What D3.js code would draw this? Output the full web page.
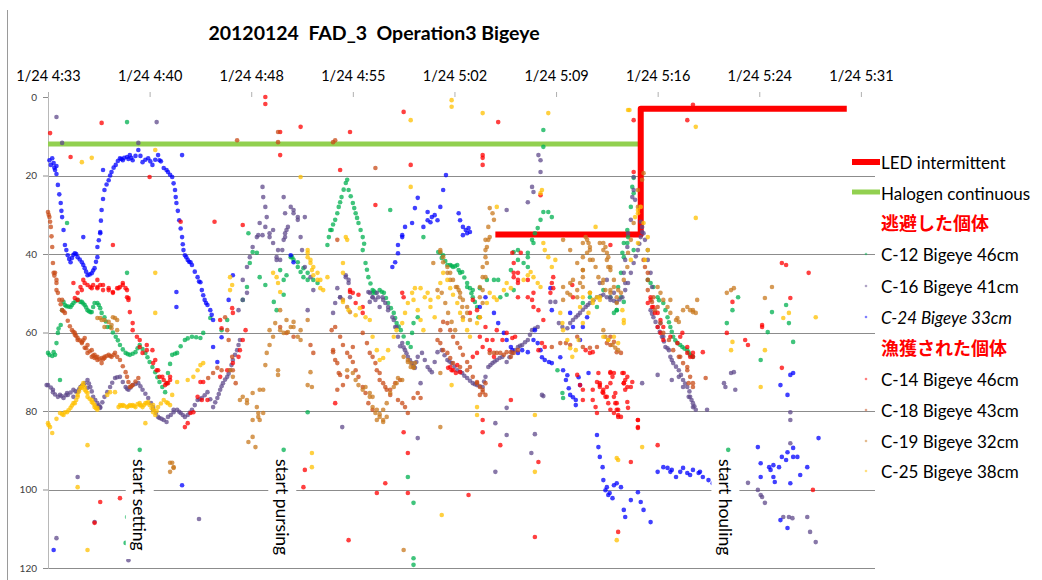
<!DOCTYPE html>
<html><head><meta charset="utf-8">
<script src="https://cdn.jsdelivr.net/npm/d3@7"></script>
<style>
body{margin:0;background:#fff;}
svg{display:block;}
</style></head><body>
<svg id="chart" width="1042" height="580"></svg>
<script>
// ---------- DATA (time = minutes after 04:00 on 1/24, depth in m) ----------
const title = "20120124  FAD_3  Operation3 Bigeye";
const xTickValues = [33.6, 40.8, 48.0, 55.2, 62.4, 69.6, 76.8, 84.0, 91.2];
const xTickLabels = ["1/24 4:33","1/24 4:40","1/24 4:48","1/24 4:55","1/24 5:02","1/24 5:09","1/24 5:16","1/24 5:24","1/24 5:31"];
const yTickValues = [0, 20, 40, 60, 80, 100, 120];

const ledLine = [[65.3,35],[75.6,35],[75.6,3],[90.2,3]];
const halogenLine = [[33.6,12],[75.6,12]];

const annotations = [
  {t:40.1, label:"start setting"},
  {t:50.2, label:"start pursing"},
  {t:81.6, label:"start houling"}
];

const C12 = [[33.6,65.2],[33.7,65.7],[33.9,66.0],[34.1,65.7],[34.2,62.7],[34.3,60.1],[34.5,58.1],[34.6,54.3],[34.7,52.2],[34.9,53.3],[35.2,53.5],[35.4,52.5],[35.7,51.7],[35.9,52.2],[36.0,52.2],[36.2,53.0],[36.4,54.3],[36.6,54.8],[36.7,54.8],[36.9,52.5],[37.1,52.5],[37.3,53.8],[37.4,55.0],[37.6,56.1],[37.8,58.6],[38.0,58.6],[38.4,61.1],[38.7,63.2],[39.1,65.2],[39.4,65.7],[39.8,65.0],[40.1,63.2],[40.5,65.2],[40.8,67.5],[41.2,70.1],[41.5,72.6],[41.9,75.2],[42.1,70.3],[42.4,65.7],[42.75,65.2],[43.3,61.9],[43.8,61.1],[44.4,61.4],[44.6,60.1],[45.9,59.4],[46.3,56.8],[47.4,51.7],[47.7,48.4],[47.9,42.3],[48.1,39.5],[47.8,34.7],[48.4,39.7],[48.6,45.9],[49.0,47.9],[49.6,52.2],[49.8,54.3],[50.3,50.4],[50.5,45.4],[50.8,40.8],[50.9,40.8],[51.0,41.5],[51.3,42.1],[51.3,43.3],[51.5,44.6],[51.7,43.6],[51.7,45.9],[52.0,46.6],[52.0,44.8],[52.4,46.6],[52.7,47.4],[50.05,44.1],[50.3,46.6],
[34.0,65.0],[34.35,59.0],[34.8,53.0],[35.05,53.4],[35.3,53.0],[35.55,52.0],[36.1,52.6],[36.3,53.6],[36.5,54.6],[36.8,53.5],[37.2,53.0],[37.7,57.2],[38.2,60.0],[38.55,62.0],[38.9,64.3],[39.25,65.5],[39.6,65.4],[39.95,64.0],[40.3,64.2],[40.65,66.3],[41.0,68.8],[41.35,71.4],[41.7,73.9],[42.0,73.0],[42.25,68.0],[42.6,65.4],[43.0,63.5],[43.5,61.5],[44.1,61.2],
[53.4,37.7],[53.6,33.9],[53.7,33.9],[53.95,31.3],[54.2,28.0],[54.4,25.5],[54.7,21.9],[54.8,21.1],[54.9,23.7],[55.2,27.0],[55.4,29.6],[55.6,32.1],[55.9,35.7],[55.9,39.0],[56.1,42.3],[56.3,45.9],[56.6,49.2],[56.8,49.9],[57.1,49.2],[57.4,49.9],[57.7,52.5],[58.1,55.0],[58.3,57.6],[58.6,59.4],[59.1,62.7],[59.3,63.7],[59.4,60.1],[59.5,57.6],[59.8,56.1],[56.6,49.9],
[53.5,35.7],[53.8,32.5],[54.1,29.6],[54.3,26.8],[54.55,23.6],[55.05,25.3],[55.3,28.3],[55.5,30.8],[55.75,33.9],[56.0,37.4],[56.2,44.0],[56.45,47.5],[56.7,49.5],[57.25,49.6],[57.55,51.2],[57.9,53.8],[58.2,56.3],[58.45,58.5],[58.8,61.0],
[61.25,39.5],[61.4,39.7],[61.5,41.0],[61.6,40.3],[61.9,42.8],[62.1,42.8],[62.3,43.3],[62.6,42.8],[62.7,44.1],[62.8,44.8],[62.95,44.6],[63.3,47.4],[63.3,48.4],[63.5,48.7],[63.7,51.0],[63.7,49.2],[64.0,53.5],[64.1,56.1],[64.2,48.7],[64.7,46.6],[65.2,46.6],[65.5,46.6],[65.65,51.0],[66.1,50.4],[66.6,49.2],[66.4,44.1],[66.6,39.5],[66.9,39.0],[66.9,41.5],[67.3,42.3],[67.6,40.8],[67.6,43.3],[67.6,39.7],[67.9,36.4],[68.0,37.2],[68.1,34.7],[68.3,33.4],[68.5,31.3],[68.7,29.3],[69.05,29.3],[69.3,30.6],[68.7,8.4],[68.7,12.7],
[61.75,41.8],[62.2,43.0],[62.45,43.1],[63.1,46.0],[63.6,50.0],[63.85,52.2],
[69.7,69.6],[70.05,75.4],[70.1,76.7],[71.5,52.5],[72.0,51.0],[72.5,53.5],[72.95,49.2],[73.45,51.0],[73.9,54.3],[74.4,52.2],[74.65,37.2],[74.7,35.7],[74.4,40.8],[75.1,39.0],
[75.1,20.6],[75.0,22.9],[75.1,24.5],[74.9,28.0],[74.65,33.9],[74.4,37.2],[74.3,39.7],[74.2,44.8],[74.0,48.4],[74.2,51.0],[73.7,55.0],[73.9,54.3],[76.1,46.6],[76.3,47.4],[76.5,48.4],[76.8,51.0],
[77.2,52.5],[77.5,56.1],[77.7,58.6],[77.9,61.1],[78.2,62.7],[78.55,63.7],[78.9,64.5],[79.1,65.7],[79.3,66.2],
[76.9,51.8],[77.35,54.3],[77.6,57.4],[77.8,59.8],[78.05,62.0],[78.4,63.2],[78.7,64.1],[79.0,65.1],[79.2,66.0],
[82.1,54.3],[82.5,51.0],[84.9,54.8],[85.9,53.0],[81.7,57.6],[84.6,59.9],[86.4,62.4],[84.1,67.0],[86.1,57.6],
[39.2,6.4],[34.95,32.1],[39.2,44.8],[45.1,56.3],[34.45,72.1],[40.1,89.9],[39.1,113.6],[39.2,107.0],[50.3,89.9],[52.0,80.3],[59.1,96.8],[59.5,103.4],[59.5,117.5],[59.5,119.2],[60.2,35.7],[57.85,28.8],[81.8,89.9]];

const C16 = [[33.5,73.4],[33.6,73.4],[33.95,74.6],[33.95,75.2],[34.3,76.4],[34.45,75.9],[34.7,76.7],[34.95,75.4],[35.0,75.9],[35.4,74.6],[35.4,76.4],[35.7,75.2],[35.9,73.9],[36.1,73.4],[36.2,72.9],[36.4,72.1],[36.4,74.1],[36.6,73.9],[36.8,76.4],[37.1,78.0],[37.1,79.0],[37.3,79.0],[37.3,79.2],[37.6,76.4],[38.0,73.9],[38.35,71.6],[38.7,71.3],[39.1,73.9],[39.3,74.6],[39.6,73.4],[40.0,72.9],[40.3,74.6],[40.7,76.7],[41.05,79.0],[41.05,79.7],[41.4,81.5],[41.5,81.8],[41.8,82.3],[42.0,82.8],[42.1,81.5],[42.5,80.3],[42.5,79.7],[42.75,79.7],[43.0,80.5],[43.3,81.5],[43.5,81.0],[43.8,79.7],[44.2,77.2],[44.5,76.7],[44.9,75.2],[45.3,79.0],[45.6,76.7],[45.8,74.6],[46.0,72.9],[46.3,71.3],[46.5,69.6],[46.7,67.0],[47.0,64.5],[47.2,61.9],[47.1,54.3],[47.4,51.7],[47.7,49.9],[47.4,46.6],[47.7,43.3],[47.9,40.8],[48.1,38.2],[48.4,35.7],[48.5,35.2],[48.6,32.1],[48.8,35.2],[49.0,33.1],[49.1,30.6],[49.0,28.0],[48.85,25.5],[48.8,22.9],[49.3,34.7],[49.3,35.7],[49.55,37.2],[49.55,33.9],[49.8,40.8],[49.8,41.5],[49.9,39.0],[50.05,41.5],[50.2,39.0],[50.3,36.4],[50.4,35.7],[50.4,34.7],[50.6,33.1],[50.5,33.9],[50.3,25.5],[50.4,29.6],[50.8,28.0],[51.0,28.8],[51.0,29.6],[51.3,30.6],[51.3,31.3],[51.5,35.7],[51.6,39.0],[51.8,30.6],[51.8,43.3],[52.2,45.9],[52.4,49.2],[52.0,54.3],
[33.8,74.0],[34.1,75.8],[34.55,76.2],[34.85,76.0],[35.2,75.3],[35.55,75.0],[35.8,74.5],[36.0,73.6],[36.5,73.0],[36.7,75.0],[36.95,77.2],[37.2,78.6],[37.45,77.8],[37.8,75.2],[38.15,72.8],[38.5,71.4],[38.9,72.6],[39.2,74.3],[39.45,74.0],[39.8,73.1],[40.15,73.7],[40.5,75.6],[40.9,78.0],[41.25,80.5],[41.65,82.0],[42.3,81.0],[42.9,80.2],[43.15,81.0],[43.65,80.4],[44.0,78.5],[44.35,77.0],[44.7,76.0],[45.1,77.0],[45.45,77.8],[45.7,75.7],[45.9,73.7],[46.15,72.0],[46.4,70.5],[46.6,68.3],[46.85,65.7],[47.1,63.2],
[54.1,48.7],[54.3,51.0],[54.7,45.4],[54.9,46.6],[56.3,49.7],[56.6,51.0],
[53.8,55.0],[53.95,52.5],[54.3,51.0],[54.7,45.9],[54.9,47.4],[55.0,51.0],[56.4,49.9],[56.4,52.2],[56.6,51.0],[56.8,51.7],[56.9,49.9],[57.0,51.0],[57.1,53.5],[57.3,51.0],[57.35,51.7],[57.5,52.5],[57.7,53.5],[57.7,54.3],[58.0,56.1],[58.1,56.8],[58.2,58.6],[58.3,58.6],[58.4,61.1],[58.7,62.7],[58.9,64.5],[59.1,66.2],[59.4,67.8],[59.6,69.0],[59.8,66.2],[60.1,65.2],[60.5,68.8],[60.8,70.1],[61.2,65.0],[61.5,64.5],[61.9,67.0],[62.2,67.8],[62.6,69.6],[62.95,70.3],[63.3,71.6],[63.7,72.9],[64.0,73.4],[64.4,73.9],[64.6,71.3],[64.8,68.8],[65.1,67.8],[65.4,67.0],[65.8,66.2],[66.1,67.5],[66.5,65.2],[66.9,63.7],[67.2,63.2],[67.6,61.9],[67.9,59.4],[68.3,58.6],[69.2,52.2],[69.55,52.2],[69.8,57.6],[70.05,58.6],[70.4,58.9],[70.6,57.6],[71.0,56.1],[71.3,55.0],[71.7,53.5],[72.0,52.5],[72.5,51.0],[72.95,50.4],[73.45,51.7],[73.9,52.2],[74.3,51.0],[74.7,47.4],[75.1,42.3],[75.4,39.0],[75.6,35.7],[75.7,34.4],[72.7,47.4],[73.2,46.6],[73.45,51.0],[73.7,49.9],
[58.55,63.5],[58.8,63.8],[59.0,65.3],[59.25,67.0],[59.5,68.5],[59.7,67.5],[60.3,67.0],[60.65,69.5],[61.0,67.5],[61.7,65.8],[62.05,67.4],[62.4,68.7],[62.8,70.0],[63.1,71.0],[63.5,72.3],[63.85,73.2],[64.2,73.7],[64.5,72.5],[64.95,68.3],[65.25,67.4],[65.6,66.5],[66.3,66.3],[66.7,64.5],[67.05,63.4],[67.4,62.5],[67.75,60.6],[68.1,59.0],
[70.8,56.8],[71.15,55.6],[71.5,54.2],[71.85,53.0],[72.25,51.8],[72.75,50.7],[73.2,51.0],[73.7,51.9],[74.1,51.6],[74.5,49.2],[74.9,44.8],[75.25,40.6],[75.5,37.4],
[75.1,23.7],[75.0,25.5],[75.2,26.2],[74.9,31.3],[74.7,34.7],[74.65,38.2],[74.5,41.5],[74.4,44.8],[74.5,47.4],[75.6,31.8],[75.7,33.1],[75.8,34.7],[75.9,36.4],[76.1,39.0],[76.1,41.5],[76.3,44.8],[76.4,48.4],[75.1,20.4],
[76.3,54.3],[76.5,56.1],[76.8,58.6],[77.0,57.6],[77.1,61.1],[77.2,61.1],[77.35,63.7],[77.6,64.5],[77.7,66.2],[77.9,67.8],[78.3,69.6],[78.3,71.3],[78.6,72.1],[78.6,73.9],[78.9,73.9],[79.0,76.4],[79.1,76.4],[79.3,78.0],[79.3,79.0],[79.5,79.7],[76.8,70.8],[77.8,72.1],[80.3,79.7],[75.7,72.9],
[76.4,55.2],[76.65,57.3],[76.95,59.8],[77.25,62.3],[77.5,64.0],[77.8,67.0],[78.1,68.7],[78.45,70.8],[78.75,73.0],[79.05,75.0],[79.2,77.2],[79.4,78.8],
[82.0,70.3],[82.2,70.1],[81.5,72.9],[81.6,73.9],[82.3,74.6],[86.2,80.3],[86.2,82.3],[86.2,88.2],[84.1,101.4],[84.2,101.9],[84.4,103.4],[83.2,98.3],[85.7,107.0],[86.1,107.0],[86.35,107.3],[87.4,107.0],[87.6,110.8],[88.0,113.4],[83.9,100.1],
[34.2,5.1],[34.6,11.7],[41.3,6.4],[40.0,11.7],[35.7,96.8],[36.9,108.3],[34.2,112.4],[39.3,118.0],[44.3,107.5],[54.45,84.1],[59.8,86.9],[65.3,83.1],[66.1,79.2],[65.3,95.5],[66.1,86.1],[67.85,90.7],[68.1,85.9],[68.7,76.2],[60.0,72.9],[68.6,75.9],[68.35,14.8],[68.5,16.1],[68.5,19.1],[67.9,22.9],[68.0,24.2],[67.6,26.8],[66.1,28.8]];

const C24 = [[33.7,16.1],[33.8,17.3],[34.0,16.8],[34.1,18.6],[34.2,19.6],[34.3,22.4],[34.5,27.0],[34.6,30.6],[34.7,33.9],[34.8,37.7],[35.0,40.3],[35.3,41.0],[35.5,39.8],[35.7,40.8],[36.0,42.1],[36.2,43.6],[36.4,45.4],[36.7,44.9],[36.9,43.6],[37.1,40.8],[37.1,38.2],[37.3,34.7],[37.4,28.8],[37.6,23.7],[37.9,21.2],[38.1,19.1],[38.4,17.3],[38.7,15.6],[39.2,15.3],[39.6,16.1],[40.0,13.5],[40.3,16.6],[40.7,15.6],[41.0,17.3],[41.4,14.8],[41.8,18.1],[42.1,19.1],[42.4,20.4],[42.6,23.7],[42.7,27.0],[42.9,31.4],[43.1,35.7],[43.2,39.0],[43.5,41.5],[43.8,42.8],[44.2,45.9],[44.5,49.2],[44.7,51.7],[45.1,54.3],[45.3,56.8],[33.9,15.6],[34.2,17.6],[35.2,42.1],[38.9,16.1],[39.4,14.8],[41.5,16.1],[43.3,40.3],[43.7,42.1],[44.4,47.2],[44.9,53.0],
[34.05,18.0],[34.4,24.8],[34.55,29.0],[34.9,39.0],[35.1,41.3],[35.4,40.2],[35.6,40.0],[35.85,41.4],[36.1,42.8],[36.3,44.5],[36.55,45.2],[36.8,44.2],[37.0,42.0],[37.2,36.5],[37.35,31.5],[37.5,26.0],[37.75,22.3],[38.0,20.0],[38.25,18.0],[38.55,16.3],[38.8,15.8],[39.0,15.5],[39.3,15.8],[39.5,15.5],[39.8,15.0],[40.15,15.0],[40.5,16.0],[40.85,16.4],[41.2,16.0],[41.6,16.4],[42.0,18.6],[42.25,19.8],[42.5,22.0],[42.65,25.5],[42.8,29.0],[43.0,33.5],[43.15,37.5],[43.4,40.8],[43.6,42.0],[44.0,44.5],[44.3,47.0],[44.6,50.5],[44.8,52.5],[45.2,55.5],
[45.9,61.2],[45.3,63.7],[45.6,67.5],[46.4,51.7],[46.7,45.4],[42.7,49.7],[42.7,53.5],[36.1,35.7],[37.3,34.4],[37.5,18.6],[43.1,14.8],
[61.8,19.9],[61.6,23.7],[61.4,28.0],[61.2,31.4],[60.8,30.6],[60.5,29.3],[60.5,31.4],[60.2,33.1],[59.8,25.7],[59.6,28.3],[59.4,32.1],[58.9,33.1],[58.7,35.7],[58.4,39.8],[58.2,42.1],[58.0,43.3],[62.8,31.4],[63.0,33.1],[63.2,33.9],[63.4,33.4],[63.3,34.7],[63.0,35.2],[62.7,29.6],[51.0,42.1],[50.8,40.3],[61.0,30.1],[60.7,31.9],
[58.4,37.7],[58.7,35.2],[63.5,34.4],[64.2,53.5],[64.6,51.0],[65.2,55.0],[65.5,57.6],[65.9,60.1],[66.1,61.9],[66.4,63.7],[66.9,65.2],[67.2,64.5],[68.0,61.9],[68.1,59.4],[68.3,62.7],[68.5,64.5],[68.6,66.3],[68.8,67.0],[69.1,67.5],[69.3,67.8],[69.9,66.3],[70.1,69.6],[70.3,72.1],[70.5,74.2],[70.6,75.9],[70.8,76.5],[69.2,48.7],[69.3,54.3],[70.6,55.0],[70.8,58.6],[71.3,61.9],[71.5,58.6],[71.8,56.1],[71.2,71.4],[71.3,73.4],[71.0,77.2],[71.9,70.3],[70.4,70.9],[71.0,78.5],[66.5,64.5],[67.6,65.0],
[72.5,86.1],[72.6,89.2],[72.7,91.7],[72.9,94.3],[72.95,97.6],[73.2,99.4],[73.4,100.9],[73.7,98.9],[73.9,98.4],[74.2,99.4],[73.3,101.4],[74.4,105.2],[74.5,107.0],[74.9,102.7],[75.4,100.7],[75.6,103.2],[75.8,105.2],[76.3,108.3],[73.1,100.2],[73.6,102.2],
[76.8,95.5],[77.2,94.3],[77.5,94.5],[77.7,95.5],[78.1,96.8],[78.4,95.5],[78.6,94.5],[78.9,95.8],[79.3,95.0],[79.7,95.8],[80.0,96.8],[80.4,97.6],[80.7,98.4],[77.8,95.0],[79.1,96.3],[79.8,95.5],
[84.1,96.8],[84.7,94.3],[85.0,93.8],[85.4,94.3],[85.6,91.7],[86.0,90.5],[86.4,89.4],[86.4,91.7],[86.7,91.7],[85.0,96.8],[85.1,98.1],[84.1,93.3],[83.9,89.2],[86.2,98.4],[87.4,94.3],[88.2,86.9],[85.5,107.8],[86.0,109.8],[86.9,96.3],[85.5,73.4],[86.2,70.8],[86.4,70.3],[86.0,75.9],[84.8,95.0],[85.9,92.5],
[34.0,115.4],[43.1,98.9]];

const C14 = [[35.4,47.4],[35.5,51.2],[35.7,49.9],[35.7,51.7],[35.9,48.4],[36.0,49.2],[36.1,46.6],[36.2,47.4],[36.4,47.9],[36.6,48.4],[36.7,48.7],[36.8,47.9],[37.1,48.4],[37.1,46.6],[37.1,48.7],[37.3,47.9],[37.5,49.2],[37.5,47.9],[37.9,48.7],[37.9,49.2],[38.2,49.9],[38.2,49.7],[38.5,48.7],[38.6,48.7],[38.7,48.4],[38.9,47.4],[38.9,47.9],[39.1,48.7],[39.2,49.2],[39.2,51.0],[39.3,51.7],[39.3,51.2],[39.4,54.8],[39.6,57.6],[39.6,59.4],[39.9,61.1],[40.1,61.9],[40.1,63.7],[40.3,65.2],[40.6,63.2],[40.6,64.5],[41.0,64.5],[41.05,67.8],[41.2,67.0],[41.3,69.6],[41.4,69.6],[41.5,71.3],[41.7,71.3],[41.8,72.1],[41.9,73.4],[42.0,72.9],[42.1,72.9],[42.25,72.1],[42.25,71.3],[43.3,84.1],[43.5,83.1],[43.7,80.5],[43.9,80.3],[44.2,76.4],[44.4,72.6],[44.5,77.2],[44.6,72.6],[44.9,77.2],[45.8,71.3],[45.8,56.8],[45.9,58.9],[46.3,69.6],[46.65,53.8],[46.7,55.0],[46.7,67.8],[47.1,66.2],[47.2,64.5],[47.4,61.9],[47.6,59.4],
[55.0,49.2],[55.2,49.9],[55.6,50.4],[55.9,53.5],[55.9,55.0],[58.7,49.9],[58.8,51.0],[53.95,78.0],[55.0,49.7],[55.4,52.5],[61.95,69.0],[62.1,68.8],[62.2,69.6],[62.3,69.6],[62.5,70.3],[62.6,68.3],[62.8,70.1],[63.7,66.2],[64.0,65.2],[64.6,58.6],[64.7,61.9],[64.9,64.5],[65.2,66.2],[65.8,61.9],[66.1,60.1],[66.5,61.4],[66.7,61.1],[66.5,39.7],[66.6,42.3],[66.6,44.8],[66.6,45.9],[66.9,44.8],[66.9,46.6],[66.9,47.4],[66.9,51.0],[67.1,39.7],[67.6,51.0],[67.6,46.6],[67.9,51.7],[68.0,49.9],[68.0,53.5],[68.35,54.3],[68.35,64.5],[68.6,62.7],[68.7,56.8],[68.8,63.7],[69.2,49.9],[69.3,47.4],[69.4,45.9],[69.4,48.7],[70.75,47.9],[70.8,51.0],
[63.7,51.7],[64.0,54.3],[63.5,55.0],[64.2,61.1],[64.4,63.7],[65.1,61.9],[65.4,59.4],
[72.5,72.6],[72.6,70.3],[72.7,72.9],[72.7,73.9],[72.95,74.6],[72.95,75.4],[73.2,73.9],[73.2,76.4],[73.45,70.3],[73.45,72.9],[73.6,71.3],[73.7,76.4],[73.8,75.4],[73.8,78.0],[73.9,78.0],[73.9,79.7],[74.0,79.7],[74.0,81.5],[74.2,81.5],[74.3,70.3],[74.4,70.3],[74.4,72.9],[74.5,72.1],[74.5,74.6],[74.65,73.9],[74.65,77.7],[74.7,79.2],
[71.7,64.5],[72.0,65.2],[72.2,65.0],[72.7,73.4],[72.9,75.2],[73.1,76.4],[73.3,78.0],[73.45,79.7],[73.7,80.5],[74.0,81.0],[74.4,72.9],[74.65,71.3],[74.9,73.9],[75.4,82.3],[75.4,84.3],[71.5,77.2],[71.5,74.6],[72.2,74.6],[72.2,77.2],[72.4,79.0],[72.5,80.5],[73.7,70.3],[73.45,70.1],[75.0,72.6],[71.1,70.8],[71.3,73.4],
[76.1,52.5],[76.3,51.0],[76.3,51.7],[76.4,53.5],[76.5,53.5],[76.6,55.0],[76.8,55.0],[76.8,58.6],[77.0,56.8],[77.0,60.1],[77.2,58.6],[77.2,61.9],[77.7,61.1],[78.2,62.7],[78.4,61.1],[78.55,60.1],[78.9,63.7],[78.9,65.2],[79.1,66.2],[79.3,65.2],[79.3,66.2],[80.0,65.0],
[85.6,42.3],[85.9,42.8],[87.5,44.8],[86.2,51.2],[82.1,52.2],[84.2,58.6],[83.0,61.9],[83.2,63.2],[84.2,58.1],[85.6,69.0],[81.7,60.1],[75.1,19.1],
[33.75,9.2],[37.4,6.6],[35.2,15.3],[40.8,20.4],[38.2,37.7],[45.4,31.8],[49.0,0.0],[49.0,1.8],[43.0,31.8],[50.05,14.8],[47.4,32.6],[37.3,103.2],[38.7,102.2],[36.9,108.5],[51.8,95.0],[51.7,99.4],[54.9,112.9],[59.1,90.7],[59.1,100.9],[63.4,101.4],[65.65,88.7],[66.4,77.2],[64.4,82.3],[64.4,85.4],[68.35,93.0],[68.1,112.1],[56.9,100.9],[57.5,98.4],[58.8,85.4],[58.8,3.8],[55.0,8.9],[54.3,18.6],[56.8,27.5],[59.3,17.3],[64.4,14.8],[64.4,15.5],[64.4,17.3],[65.5,6.4],[68.5,25.0],[51.5,7.6],[50.05,8.9],[75.1,5.9],[78.9,5.9],[79.3,2.0],[73.45,37.7],[75.4,82.3],[75.4,84.1],[76.8,88.7],[74.0,110.8],[87.8,100.1],[74.9,93.0]];

const C18 = [[33.6,29.3],[33.7,30.6],[33.75,31.8],[33.8,33.1],[33.9,38.2],[33.95,42.3],[34.0,44.8],[34.1,44.8],[34.2,46.6],[34.2,47.4],[34.2,49.2],[34.3,49.9],[34.4,51.7],[34.6,51.7],[34.6,54.3],[34.8,55.0],[35.3,59.4],[35.5,60.1],[35.5,60.6],[35.7,61.4],[35.7,61.9],[36.0,62.4],[36.0,62.7],[36.2,61.4],[36.2,63.9],[36.4,63.2],[36.4,65.2],[36.7,64.5],[36.7,66.2],[36.9,65.7],[36.9,66.5],[37.1,67.0],[37.1,66.2],[37.4,67.8],[37.4,66.5],[37.6,66.5],[37.6,66.2],[37.9,65.7],[38.1,66.2],[38.35,65.2],[38.7,67.0],[39.1,70.1],[39.3,72.6],[39.4,73.9],[39.6,73.4],[40.0,71.6],
[33.65,30.0],[33.85,35.5],[34.05,45.5],[34.5,52.8],[34.7,54.6],[35.0,57.0],[35.15,58.4],[35.4,59.8],[35.6,60.9],[35.85,62.0],[36.1,62.0],[36.3,64.0],[36.55,64.8],[36.8,65.9],[37.0,66.3],[37.25,66.8],[37.5,66.8],[37.75,66.0],[38.0,66.0],[38.25,65.7],[38.5,66.2],[38.9,68.6],[39.2,71.3],[39.5,73.7],[39.8,72.5],
[44.95,71.6],[45.3,70.3],[45.6,69.0],[46.15,56.1],[46.3,59.4],[46.4,61.9],[46.65,66.2],[46.7,69.6],[46.9,72.9],[45.9,69.6],
[50.05,58.6],[50.5,60.1],[51.0,61.1],[52.2,63.2],[52.4,65.2],[53.8,65.0],[53.95,67.0],[54.2,70.3],[54.1,74.6],[53.8,64.5],[54.1,67.8],[54.3,70.8],[54.5,73.4],[54.8,71.3],[55.0,66.2],[55.2,63.7],[55.9,60.1],[56.2,62.7],[56.4,65.2],[56.8,67.8],[57.1,70.3],[57.35,72.9],[57.6,74.6],[57.85,75.9],[58.4,77.2],[58.7,78.0],[58.9,79.0],[59.1,80.5],[59.5,76.7],[59.8,75.4],[60.0,76.7],[56.6,66.2],[56.9,69.6],[57.1,72.1],[57.5,73.9],[57.85,74.6],[58.2,72.9],[58.55,72.1],
[53.7,59.4],[53.95,58.6],[54.3,61.1],[54.5,63.2],[54.8,65.2],[55.2,67.5],[55.4,69.6],[55.6,71.3],[55.9,73.9],[56.1,75.4],[56.3,78.0],[56.6,79.7],
[61.2,61.9],[61.4,59.4],[61.4,62.7],[61.6,57.3],[61.6,64.5],[61.9,57.6],[61.9,65.2],[62.1,59.4],[62.1,66.5],[62.3,61.1],[62.3,67.8],[62.6,62.7],[62.8,63.9],[62.8,68.8],[63.0,65.7],[63.3,67.5],[63.3,69.6],[63.5,68.8],[63.7,71.3],[64.0,72.6],[64.0,72.9],[64.2,73.9],[64.2,75.9],[64.4,75.2],[64.4,74.6],[64.6,72.9],[64.6,75.9],[64.9,65.2],[65.2,65.2],[65.4,65.2],[65.65,65.2],[65.9,65.7],[66.1,65.0],[66.4,65.0],[66.4,66.2],[66.6,65.2],[66.9,64.5],
[69.3,63.7],[69.9,62.7],[70.3,62.7],[70.6,63.2],[71.1,61.1],[71.5,63.7],[72.0,63.9],[72.5,63.7],[73.2,62.7],[73.45,63.2],[73.45,61.1],[73.7,62.4],[73.9,65.0],[74.2,65.2],
[75.8,41.5],[75.9,43.3],[76.1,44.8],[76.1,46.6],[76.1,49.2],[76.4,52.2],[76.5,51.0],[76.6,54.3],[76.8,53.5],[77.0,57.6],[77.2,60.1],[77.6,61.9],[77.9,64.5],[78.3,66.2],[78.4,66.2],[78.6,67.8],[78.9,68.8],[78.9,69.6],[79.0,72.9],[79.1,71.3],[79.3,72.9],[79.3,73.9],[80.2,71.6],
[47.0,11.0],[49.9,11.5],[49.9,8.9],[53.95,11.0],[53.8,11.5],[54.1,36.4],[56.8,18.1]];

const C19 = [[37.1,56.3],[37.3,56.3],[37.4,56.8],[37.6,56.8],[37.6,58.6],[37.9,57.3],[38.1,58.1],[38.1,58.9],[38.2,56.1],[38.35,56.3],[38.5,56.8],[38.5,59.4],
[42.25,93.2],[42.25,95.5],[42.4,93.2],[42.5,94.3],[42.5,94.5],
[46.5,69.6],[46.7,71.3],[47.2,77.2],[47.4,76.4],[47.7,77.2],[47.7,78.0],[47.8,87.9],[48.1,82.3],[48.1,75.4],[48.1,86.6],[48.3,89.2],[48.4,79.0],[48.5,80.5],[48.5,81.5],[48.6,82.3],[48.6,74.6],[48.85,74.6],[48.85,80.5],[49.0,68.3],[49.1,65.2],[49.3,63.2],[49.3,59.4],[49.55,61.1],[49.7,57.6],[49.9,69.6],[49.9,70.8],[50.05,54.3],[50.05,59.4],[50.3,60.1],[50.5,56.8],[50.6,59.9],[50.8,58.6],[51.0,57.3],[51.0,58.6],[51.3,61.1],[51.5,59.4],[51.5,61.9],[52.0,56.8],[52.0,73.4],[52.2,70.1],[52.3,73.9],
[54.5,51.7],[54.8,53.5],[54.8,69.6],[55.0,54.8],[55.2,70.3],[55.4,72.1],[55.6,73.4],[55.9,74.6],[56.1,73.9],[56.4,76.4],[56.4,75.4],[56.6,79.0],[56.6,76.4],[56.8,80.5],[56.9,79.7],[56.9,82.3],[57.1,81.5],[57.1,80.8],[57.35,82.3],[57.35,79.7],[57.35,82.8],[57.6,78.0],[57.6,81.5],[57.85,75.4],[58.1,73.9],[58.3,72.9],[58.4,71.6],[58.7,72.1],[58.8,66.2],[59.1,67.0],[59.1,67.5],[59.3,67.8],[59.3,68.8],[59.5,68.8],[59.5,69.0],[59.6,67.8],[61.4,84.1],[61.4,70.3],
[61.2,49.2],[61.5,49.9],[61.75,52.5],[61.95,55.0],[62.2,57.3],[62.45,59.4],
[60.9,42.3],[61.4,39.0],[61.4,39.5],[61.6,40.8],[61.6,42.1],[61.9,43.3],[61.9,44.8],[62.1,44.8],[62.1,46.6],[62.3,46.6],[62.5,48.4],[62.6,48.4],[62.7,49.2],[62.8,49.9],[62.8,51.0],[62.95,53.5],[63.0,51.7],[63.0,56.1],[63.3,53.5],[63.3,55.0],[63.5,56.8],
[64.9,28.3],[65.1,29.6],[65.2,31.3],[64.8,33.1],[64.9,35.7],[64.6,36.4],[64.8,36.4],[64.7,38.2],[64.6,39.0],[64.6,40.8],[64.7,42.3],[64.4,43.3],[64.4,45.9],[64.6,45.9],[64.2,48.4],[64.4,49.2],[64.2,51.0],[64.4,52.5],[64.2,56.1],
[70.1,48.4],[70.6,47.4],[70.6,50.4],[71.1,51.0],[71.3,47.4],[71.5,44.1],[71.5,45.9],[71.5,44.1],[71.7,35.7],[71.8,36.4],[71.9,37.2],[72.0,38.2],[72.0,39.0],[72.0,49.9],[72.7,37.2],[72.95,39.0],[73.1,38.2],[73.2,41.5],[73.3,40.8],[73.3,43.3],[73.45,43.3],[73.45,49.2],[73.7,46.6],[73.9,51.0],[73.9,52.5],[72.95,59.4],[73.1,61.1],[73.3,61.9],[73.6,63.2],[73.8,63.9],[74.0,64.5],
[71.5,37.2],[71.8,39.7],[72.2,41.5],[72.4,43.3],[72.6,45.9],[72.9,47.4],[73.1,49.2],[73.45,49.9],[73.7,48.4],[70.8,46.6],[71.1,49.2],[70.4,49.9],[70.1,51.7],[70.1,36.4],[70.6,39.0],[71.1,42.3],[71.5,48.4],[72.95,46.6],[73.45,44.1],[74.0,49.2],
[75.8,19.4],[75.7,21.1],[75.4,23.7],[75.4,28.0],[75.1,32.1],[74.9,36.4],[74.7,39.7],[74.65,43.3],[74.4,46.6],[74.2,49.9],[76.8,48.4],[77.0,49.9],[77.2,51.7],[77.5,53.5],[77.7,55.0],[78.1,56.8],[78.3,57.3],[78.6,54.3],[78.9,53.5],[79.3,54.3],[79.5,55.0],[79.1,54.3],[79.3,54.8],[79.6,51.7],[77.7,51.7],[78.2,56.3],[81.7,49.9],[82.0,49.2],[82.2,48.7],[84.4,51.2],[84.9,48.4],[71.5,40.8],[72.0,41.5],[72.95,37.2],[73.2,39.7],
[58.8,115.4]];

const C25 = [[33.6,83.1],[33.75,84.1],[33.9,85.6],[34.45,80.5],[34.7,81.0],[34.8,80.3],[34.95,80.3],[35.2,79.2],[35.4,78.0],[35.5,78.0],[35.7,76.4],[35.7,75.9],[35.9,74.1],[36.0,74.1],[36.1,72.9],[36.2,74.6],[36.2,73.9],[36.4,76.4],[36.4,75.4],[36.7,77.7],[36.7,77.2],[36.9,79.0],[36.9,78.5],[37.1,79.7],[37.1,79.2],[37.8,75.9],[38.0,75.2],[38.35,75.2],[38.6,79.0],[38.7,78.5],[38.9,78.5],[39.2,79.0],[39.4,78.5],[39.6,78.5],[39.8,79.0],[40.1,78.0],[40.1,78.5],[40.3,79.0],[40.5,78.0],[40.7,77.7],[40.8,78.5],[41.05,80.3],[41.05,78.5],[41.2,81.0],[41.4,79.0],[41.8,77.2],[42.25,78.5],[42.4,75.9],[42.75,72.6],[43.5,72.1],[43.9,71.3],[44.2,69.6],[44.4,68.3],[44.6,67.8],
[33.65,83.6],[34.2,82.0],[34.6,80.8],[35.05,79.8],[35.3,78.6],[35.6,77.2],[35.8,75.0],[36.05,73.5],[36.3,75.0],[36.55,76.9],[36.8,78.0],[37.0,79.3],[38.8,78.7],[39.0,78.7],[39.3,78.8],[39.5,78.7],[39.7,78.7],[39.95,78.2],[40.2,78.6],[40.4,78.5],[40.6,78.0],[40.95,79.3],[41.1,79.6],[41.3,80.0],[41.6,78.1],[42.0,77.8],[42.1,78.0],
[46.5,45.9],[46.65,47.9],[46.5,49.2],[49.55,44.8],[49.8,45.9],[49.9,47.4],[50.05,49.7],[52.0,39.0],[52.0,39.7],[52.0,40.8],[52.2,41.5],[52.2,42.3],[52.3,44.1],[52.4,43.3],[52.4,45.4],[52.7,44.8],[52.7,46.6],[52.9,46.6],[52.9,48.7],[53.1,49.2],[53.4,45.9],[54.7,35.7],[54.8,36.4],[54.5,42.3],[54.5,44.8],
[54.5,52.2],[54.9,54.3],[55.4,55.6],[55.7,53.8],[56.1,56.1],[56.4,56.8],
[56.6,61.1],[56.9,64.5],[57.1,67.0],[57.35,66.5],[57.7,64.5],[58.1,61.1],[58.3,59.4],[58.7,57.6],[58.9,55.0],[59.1,52.5],[59.4,49.9],[59.6,48.7],[60.0,48.7],[60.3,51.0],[60.7,53.5],[61.0,56.1],[61.25,51.0],[61.4,47.4],[61.6,44.8],[61.9,46.6],[62.1,48.7],[62.3,50.4],[62.6,52.5],[62.8,55.0],[63.0,56.8],[63.3,59.4],[63.5,61.1],[64.0,57.6],[64.2,56.1],[64.7,52.5],[64.9,49.9],[65.2,51.0],[65.4,51.7],[65.9,49.2],[66.1,47.4],[66.4,48.7],[67.3,46.6],[67.6,45.4],[67.8,44.6],[68.0,45.9],[68.3,47.4],[68.5,48.4],[68.7,37.2],[68.8,39.0],[69.05,40.8],[69.3,43.3],[69.55,41.5],[69.9,55.0],[70.05,57.6],[70.1,59.4],[70.4,61.9],[70.6,64.0],[70.75,66.2],[71.0,64.5],[71.2,61.9],[71.5,57.6],[71.9,55.0],[72.2,52.5],[72.5,51.0],[72.7,51.7],[72.95,61.1],[73.3,61.9],[73.7,61.1],[74.0,62.7],[74.4,57.6],
[59.5,51.7],[59.8,54.3],[60.0,56.8],[60.2,59.4],[60.5,49.9],[60.7,51.7],
[75.4,28.8],[75.4,29.6],[75.2,30.6],[75.6,28.0],[75.8,32.1],[76.1,35.7],[76.1,39.0],[75.9,41.5],[75.4,37.2],[74.9,41.5],[72.0,49.9],[72.2,51.7],[71.3,53.5],[71.5,51.0],[72.7,51.0],[74.3,54.3],[74.4,56.8],
[82.1,62.4],[82.0,64.5],[84.1,73.9],[84.4,64.5],[73.9,92.0],[74.0,92.5],[75.7,89.2],[73.9,112.9],[85.7,56.3],[86.1,55.0],[88.0,56.1],[79.5,7.6],[79.5,30.8],[74.8,3.3],[72.4,33.1],
[36.0,16.6],[36.7,15.5],[41.2,13.5],[41.2,44.8],[41.2,55.0],[62.2,0.8],[62.2,2.5],[59.3,5.9],[64.4,4.1],[69.05,4.1],[65.4,28.0],[74.7,3.3],[59.3,22.9],[68.6,23.7],[68.5,24.5],[51.5,20.4],[36.4,88.7],[35.7,99.4],[36.4,115.4],[40.5,83.1],[52.3,90.7],[52.3,94.3],[61.5,106.5],[64.0,79.0],[64.0,81.0],[62.2,73.4],[68.1,81.0],[68.1,95.5]];

const series = [
  {name:"C-12 Bigeye 46cm", color:"#00B050", data:C12, italic:false},
  {name:"C-16 Bigeye 41cm", color:"#5F4A8B", data:C16, italic:false},
  {name:"C-24 Bigeye 33cm", color:"#0000FF", data:C24, italic:true},
  {name:"C-14 Bigeye 46cm", color:"#FF0000", data:C14, italic:false},
  {name:"C-18 Bigeye 43cm", color:"#C84B17", data:C18, italic:false},
  {name:"C-19 Bigeye 32cm", color:"#C8781E", data:C19, italic:false},
  {name:"C-25 Bigeye 38cm", color:"#FFC000", data:C25, italic:false}
];
const groupEscaped = "逃避した個体";
const groupCaught = "漁獲された個体";

// ---------- DRAW ----------
const svg = d3.select("#chart");
const x = d3.scaleLinear().domain([33.6, 92.2]).range([48, 875]);
const y = d3.scaleLinear().domain([0, 120]).range([97, 568]);
const font = "Lato, 'Open Sans', sans-serif";

// outer left border
svg.append("line").attr("x1",7.5).attr("x2",7.5).attr("y1",10).attr("y2",580)
  .attr("stroke","#9a9a9a").attr("stroke-width",1);

// title
svg.append("text").attr("x",374).attr("y",40).attr("text-anchor","middle")
  .attr("font-family",font).attr("font-weight",700).attr("font-size",19.5)
  .attr("fill","#000").style("white-space","pre").text(title);

// gridlines
svg.append("g").selectAll("line").data(yTickValues.filter(v=>v>0)).join("line")
  .attr("x1",48).attr("x2",875).attr("y1",d=>Math.round(y(d))+0.5).attr("y2",d=>Math.round(y(d))+0.5)
  .attr("stroke","#8c8c8c").attr("stroke-width",1);

// top axis
const xAxis = d3.axisTop(x).tickValues(xTickValues).tickSize(5).tickPadding(11)
  .tickFormat((d,i)=>xTickLabels[i]);
const gx = svg.append("g").attr("transform","translate(0,97)").call(xAxis);
gx.select(".domain").remove();
gx.selectAll(".tick line").attr("stroke","#b0b0b0");
gx.selectAll(".tick text").attr("font-family",font).attr("font-size",14.5).attr("fill","#000");

// left axis
const yAxis = d3.axisLeft(y).tickValues(yTickValues).tickSize(5).tickPadding(6);
const gy = svg.append("g").attr("transform","translate(48,0)").call(yAxis);
gy.select(".domain").attr("stroke","#b8b8b8");
gy.selectAll(".tick line").attr("stroke","#8c8c8c");
gy.selectAll(".tick text").attr("font-family",font).attr("font-size",10).attr("fill","#404040");

// light lines
const lineGen = d3.line().x(d=>x(d[0])).y(d=>y(d[1]));
svg.append("path").datum(halogenLine).attr("d",lineGen).attr("fill","none")
  .attr("stroke","#92D050").attr("stroke-width",5);
svg.append("path").datum(ledLine).attr("d",lineGen).attr("fill","none")
  .attr("stroke","#FF0000").attr("stroke-width",6).attr("stroke-linejoin","round");

// points
series.forEach(s=>{
  svg.append("g").selectAll("circle").data(s.data).join("circle")
    .attr("cx",d=>x(d[0])).attr("cy",d=>y(d[1])).attr("r",2.3)
    .attr("fill",s.color).attr("fill-opacity",0.75);
});

// annotations (rotated text with white background)
annotations.forEach(a=>{
  const cx = x(a.t);
  const g = svg.append("g").attr("transform",`translate(${cx},457) rotate(90)`);
  g.append("rect").attr("x",-2).attr("y",-14).attr("width",104).attr("height",28).attr("fill","#fff");
  g.append("text").attr("x",2).attr("y",0).attr("dominant-baseline","central")
    .attr("font-family",font).attr("font-size",17.5).attr("fill","#000").text(a.label);
});

// legend
const lg = svg.append("g");
lg.append("line").attr("x1",852).attr("x2",880).attr("y1",162).attr("y2",162)
  .attr("stroke","#FF0000").attr("stroke-width",6);
lg.append("line").attr("x1",852).attr("x2",880).attr("y1",192).attr("y2",192)
  .attr("stroke","#92D050").attr("stroke-width",5);
const legendText = (ty, txt, opts={}) => lg.append("text").attr("x",881).attr("y",ty)
  .attr("dominant-baseline","central").attr("font-family",opts.cjk?"'Noto Sans CJK JP', sans-serif":font)
  .attr("font-size",opts.size||17).attr("font-weight",opts.bold?700:400)
  .attr("font-style",opts.italic?"italic":"normal").attr("fill",opts.color||"#000").text(txt);
legendText(162,"LED intermittent");
legendText(193,"Halogen continuous");
legendText(222,groupEscaped,{cjk:true,size:18,bold:true,color:"#FF0000"});
const legendY = [254,286,317,379,410,441,471];
series.forEach((s,i)=>{
  lg.append("circle").attr("cx",866).attr("cy",legendY[i]).attr("r",1.3)
    .attr("fill",s.color).attr("fill-opacity",0.5);
  legendText(legendY[i], s.name, {italic:s.italic});
});
legendText(347,groupCaught,{cjk:true,size:18,bold:true,color:"#FF0000"});
</script>
</body></html>
